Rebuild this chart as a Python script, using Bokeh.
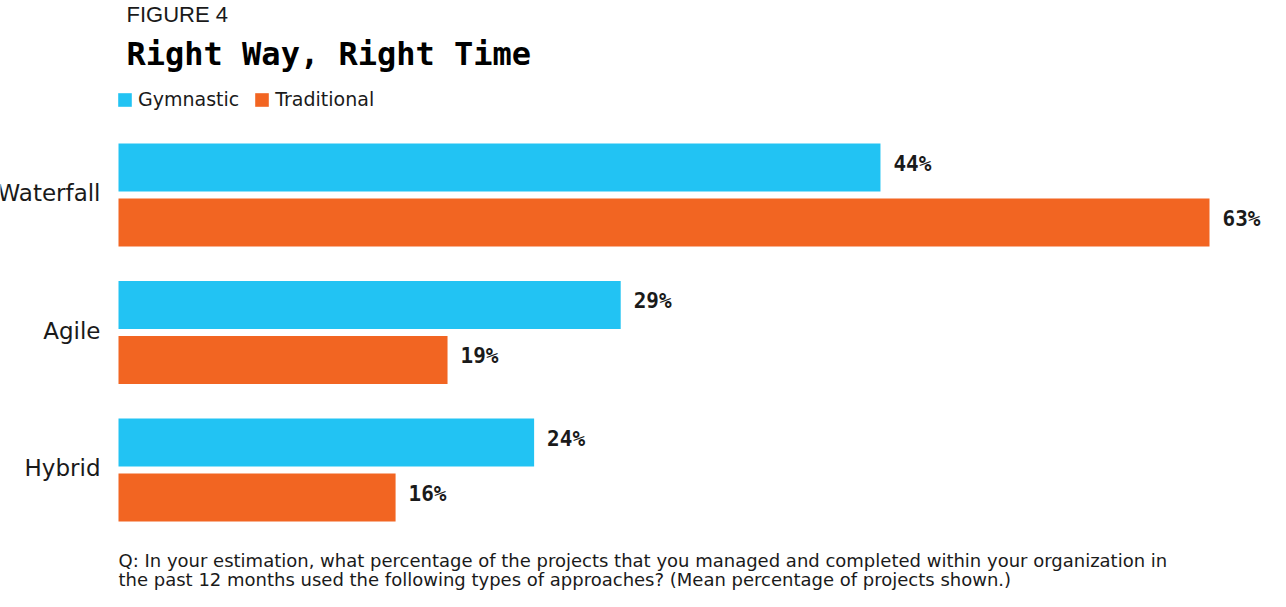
from bokeh.plotting import figure
from bokeh.models import ColumnDataSource, Range1d, Label, Legend, LegendItem
from bokeh.embed import file_html
from bokeh.resources import INLINE
from bokeh.core.properties import value

categories = ["Waterfall", "Agile", "Hybrid"]
series = ["Gymnastic", "Traditional"]
gymnastic = [44, 29, 24]
traditional = [63, 19, 16]
colors = ["#22C3F3", "#F26522"]

W, H = 1270, 591
px_per_unit = (1209 - 118) / 63.0
x0_px = 118
group_px = 137.5
top_center_px = 194.5
p = figure(width=W, height=H, output_backend="svg", toolbar_location=None,
           x_range=Range1d(-x0_px / px_per_unit, (W - x0_px) / px_per_unit),
           y_range=Range1d(-(H - top_center_px) / group_px, top_center_px / group_px),
           min_border=0, min_border_left=0, min_border_right=0,
           min_border_top=0, min_border_bottom=0, outline_line_color=None)
p.axis.visible = False
p.grid.visible = False
p.background_fill_color = "white"
p.border_fill_color = "white"

centers = [-i for i in range(len(categories))]
offset = 0.2
bar_h = 48 / group_px

renderers = []
for k, (name, vals) in enumerate(zip(series, [gymnastic, traditional])):
    ys = [c + (offset if k == 0 else -offset) for c in centers]
    src = ColumnDataSource(dict(y=ys, v=vals, lab=[f"{v}%" for v in vals]))
    r = p.hbar(y="y", left=0, right="v", height=bar_h, source=src,
               fill_color=colors[k], line_color=None)
    renderers.append(r)
    p.text(x="v", y="y", text="lab", source=src, x_offset=13, y_offset=-4,
           text_align="left", text_baseline="middle",
           text_font=value("DejaVu Sans Mono"), text_font_style="bold",
           text_font_size="21px", text_color="#1a1a1a")

cat_src = ColumnDataSource(dict(y=centers, t=categories))
p.text(x=0, y="y", text="t", source=cat_src, x_offset=-18, y_offset=-2,
       text_align="right", text_baseline="middle",
       text_font=value("DejaVu Sans"), text_font_size="23px", text_color="#1a1a1a")

legend = Legend(items=[LegendItem(label=s, renderers=[r]) for s, r in zip(series, renderers)],
                orientation="horizontal", location=(116, 481), padding=0, margin=0,
                spacing=14, glyph_width=17, glyph_height=17, label_standoff=5,
                label_text_font="DejaVu Sans", label_text_font_size="19px",
                label_text_color="#1a1a1a", background_fill_alpha=0,
                border_line_color=None, label_height=17)
p.add_layout(legend, "center")

p.add_layout(Label(x=126, y=H - 14, x_units="screen", y_units="screen", text="FIGURE 4",
                   text_font="Liberation Sans", text_font_size="22px",
                   text_color="#1a1a1a", text_baseline="alphabetic"))
p.add_layout(Label(x=126, y=H - 53, x_units="screen", y_units="screen",
                   text="Right Way, Right Time",
                   text_font="DejaVu Sans Mono", text_font_style="bold",
                   text_font_size="32px", text_color="#000000", text_baseline="alphabetic"))

foot1 = "Q: In your estimation, what percentage of the projects that you managed and completed within your organization in"
foot2 = "the past 12 months used the following types of approaches? (Mean percentage of projects shown.)"
p.add_layout(Label(x=118, y=H - 560, x_units="screen", y_units="screen", text=foot1,
                   text_font="DejaVu Sans", text_font_size="18px", text_color="#1a1a1a",
                   text_baseline="alphabetic"))
p.add_layout(Label(x=118, y=H - 579, x_units="screen", y_units="screen", text=foot2,
                   text_font="DejaVu Sans", text_font_size="18px", text_color="#1a1a1a",
                   text_baseline="alphabetic"))

open("out.html", "w").write(file_html(p, INLINE))
